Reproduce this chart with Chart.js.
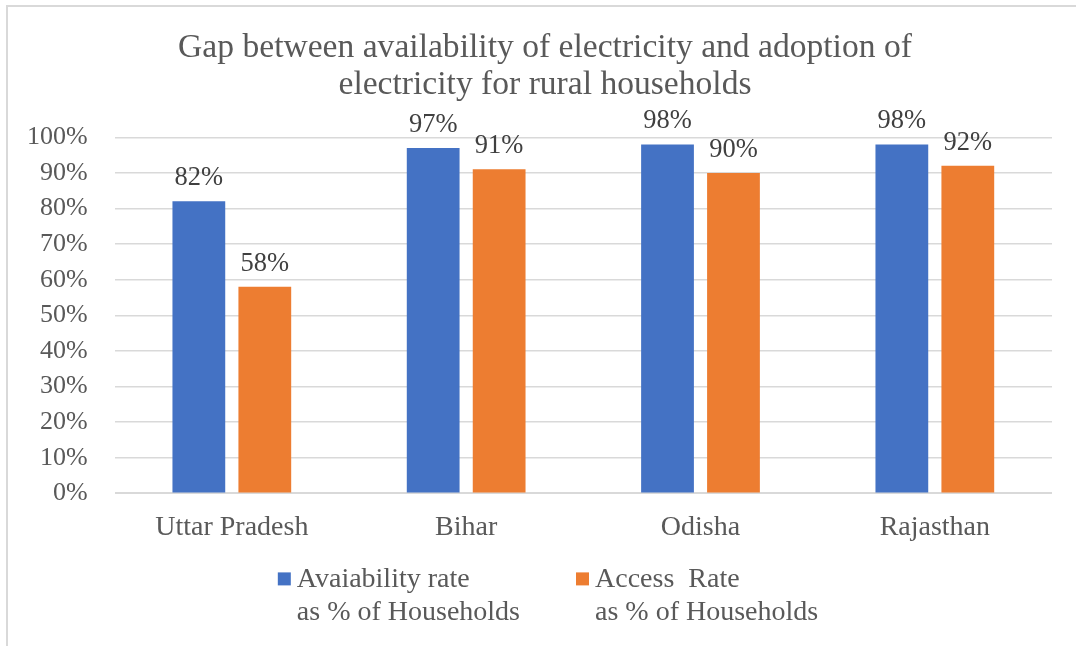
<!DOCTYPE html>
<html>
<head>
<meta charset="utf-8">
<script src="https://cdn.jsdelivr.net/npm/chart.js@4"></script>
<style>
    body { margin: 0; background: #fff; }
    #frame { position: absolute; left: 6px; top: 5px; width: 1200px; height: 800px; border: 2px solid #d9d9d9; box-sizing: border-box; }
    #wrap { position: absolute; left: 0; top: 0; width: 1076px; height: 646px; }
</style>
</head>
<body>
<div id="frame"></div>
<div id="wrap"><canvas id="bar"></canvas></div>
<script>
const states = ['Uttar Pradesh', 'Bihar', 'Odisha', 'Rajasthan']
const availabilityRate = [82, 97, 98, 98]
const accessRate = [58, 91, 90, 92]
const seriesNames = [
    ['Avaiability rate', 'as % of Households'],
    ['Access  Rate', 'as % of Households'],
]
const titleLines = ['Gap between availability of electricity and adoption of', 'electricity for rural households']

const serif = "'Liberation Serif', 'Times New Roman', serif"
const centreX = 545 // horizontal centre of the title

// value labels above the bars
const barLabels = {
    id: 'barLabels',
    afterDatasetsDraw(chart) {
        const ctx = chart.ctx
        ctx.save()
        ctx.font = '26.5px ' + serif
        ctx.fillStyle = '#404040'
        ctx.textAlign = 'center'
        ctx.textBaseline = 'alphabetic'
        chart.data.datasets.forEach((ds, i) => {
            chart.getDatasetMeta(i).data.forEach((bar, j) => {
                ctx.fillText(ds.data[j] + '%', bar.x, bar.y - 16)
            })
        })
        ctx.restore()
    },
}

// centre the title box on the whole frame, not only on the padded area
const titleShift = {
    id: 'titleShift',
    afterLayout(chart) {
        const t = chart.titleBlock
        if (!t) return
        const half = (t.right - t.left) / 2
        t.left = centreX - half
        t.right = centreX + half
    },
}

// legend with two-line entries, drawn below the axis
const twoLineLegend = {
    id: 'twoLineLegend',
    afterDraw(chart) {
        const ctx = chart.ctx
        ctx.save()
        ctx.font = '28px ' + serif
        ctx.textBaseline = 'middle'
        ctx.textAlign = 'left'
        const box = 13, gap = 6, spacing = 56, lineH = 33
        const items = chart.data.datasets.map(ds => {
            const w = Math.max(...ds.label.map(t => ctx.measureText(t).width))
            return { ds, w: box + gap + w }
        })
        const total = items.reduce((s, it) => s + it.w, 0) + spacing * (items.length - 1)
        let x = centreX + 3 - total / 2
        const y = chart.chartArea.bottom + 86
        items.forEach(it => {
            ctx.fillStyle = it.ds.backgroundColor
            ctx.fillRect(x, y - 7, box, box)
            ctx.fillStyle = '#595959'
            it.ds.label.forEach((t, k) => ctx.fillText(t, x + box + gap, y + k * lineH))
            x += it.w + spacing
        })
        ctx.restore()
    },
}

const barConfig = {
    type: 'bar',
    data: {
        labels: states,
        datasets: [
            {
                label: seriesNames[0],
                data: availabilityRate,
                backgroundColor: '#4472C4',
                barPercentage: 0.8,
                categoryPercentage: 0.563,
            },
            {
                label: seriesNames[1],
                data: accessRate,
                backgroundColor: '#ED7D31',
                barPercentage: 0.8,
                categoryPercentage: 0.563,
            },
        ],
    },
    options: {
        responsive: true,
        maintainAspectRatio: false,
        animation: false,
        layout: {
            padding: { left: 0, right: 24, top: 0, bottom: 93 },
        },
        plugins: {
            legend: { display: false },
            tooltip: { enabled: false },
            title: {
                display: true,
                text: titleLines,
                color: '#595959',
                font: { family: serif, size: 33.6, weight: 'normal', lineHeight: 1.12 },
                padding: { top: 29, bottom: 33 },
            },
        },
        scales: {
            x: {
                grid: { display: false },
                border: { display: false },
                ticks: {
                    color: '#595959',
                    font: { family: serif, size: 28 },
                    padding: 9,
                    maxRotation: 0,
                },
            },
            y: {
                min: 0,
                max: 100,
                grid: {
                    color: '#d9d9d9',
                    lineWidth: c => (c.index === 0 ? 2 : 1.5),
                    drawTicks: false,
                },
                border: { display: false },
                ticks: {
                    stepSize: 10,
                    autoSkip: false,
                    color: '#595959',
                    font: { family: serif, size: 26 },
                    padding: 27,
                    callback: v => v + '%',
                },
            },
        },
    },
    plugins: [titleShift, barLabels, twoLineLegend],
}

const barCtx = document.getElementById('bar')
window.myBar = new Chart(barCtx, barConfig)
</script>
</body>
</html>
